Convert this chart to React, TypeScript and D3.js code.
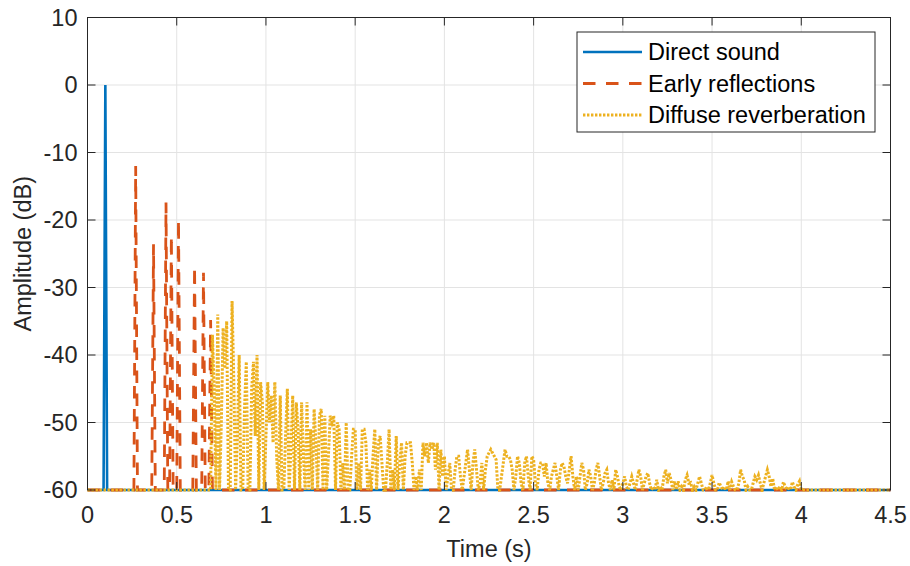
import React from 'react';
import * as d3 from 'd3';

// ---- data ----
const SAMPLE_STEP = 0.01; // s
const FLOOR_DB = -60;
const T_END = 4.5;

const xTicks = [0, 0.5, 1, 1.5, 2, 2.5, 3, 3.5, 4, 4.5];
const yTicks = [-60, -50, -40, -30, -20, -10, 0, 10];

const seriesNames = ['Direct sound', 'Early reflections', 'Diffuse reverberation'];

const directTimes = [0.1];
const directDb = [0];

const earlyTimes = [0.27, 0.37, 0.44, 0.47, 0.51, 0.6, 0.65, 0.69];
const earlyDb = [-12, -23.6, -17.4, -22.3, -19.9, -26.8, -27.8, -34.8];

const diffuseStart = 0.7;
const diffuseDb = [
  -37, -45, -60, -34, -60, -50, -36, -42, -35, -60,
  -60, -32, -44, -60, -52, -40, -60, -60, -48, -41,
  -60, -60, -45, -41, -52, -40, -60, -44, -47, -60,
  -52, -44, -50, -46, -53, -44, -55, -60, -46, -60,
  -60, -52, -45, -60, -54, -46, -60, -47, -51, -60,
  -47, -55, -60, -47, -60, -51, -60, -48, -53, -60,
  -49, -48, -60, -49, -60, -55, -49, -50, -49, -60,
  -50, -51, -60, -56, -60, -50, -60, -60, -55, -51,
  -51, -60, -56, -60, -51, -51, -53, -60, -57, -60,
  -55, -51, -60, -53, -52, -56, -60, -60, -56, -51,
  -60, -57, -60, -52, -60, -56, -53, -60, -55, -53,
  -53, -53, -56, -60, -58, -60, -57, -60, -53, -55,
  -53, -56, -53, -54, -53, -57, -53, -60, -54, -58,
  -55, -60, -58, -56, -60, -60, -57, -55, -55, -58,
  -60, -58, -56, -54, -57, -60, -56, -54, -57, -60,
  -59, -56, -60, -57, -55, -54.5, -54, -54.5, -55, -55.5,
  -60, -60, -58, -56, -54, -55, -55, -55.5, -57, -60,
  -58, -55, -56, -59, -60, -56, -55, -58, -60, -55,
  -55.5, -59, -60, -57, -56, -56, -58, -56, -59, -60,
  -58, -57, -56, -58, -60, -57, -56, -56.5, -58, -59,
  -57, -55, -58, -60, -58, -60, -58, -56, -57, -60,
  -59, -57, -58, -60, -59, -57, -56, -58, -60, -59,
  -57.5, -57, -59, -60, -58.5, -60, -57, -58, -59.5, -60,
  -59, -58, -59.5, -60, -59, -58, -59, -60, -58.5, -57,
  -58, -60, -59, -58, -57.5, -59, -60, -59.5, -60, -58.5,
  -60, -59.5, -60, -58, -57, -59, -57.5, -58.5, -60, -58.7,
  -60, -58.7, -60, -59.5, -60, -58.5, -57.8, -59, -58.9, -60,
  -59.5, -60, -59, -58, -59, -60, -60, -59.5, -60, -59,
  -57.8, -59, -60, -60, -58.9, -59.5, -60, -59.5, -60, -58.7,
  -60, -58.8, -59.5, -60, -60, -59, -57, -58, -58.5, -60,
  -59.5, -60, -60, -59, -58, -58.5, -57.8, -59, -60, -59,
  -58, -57, -58, -59.5, -58.3, -60, -59.5, -60, -59.5, -60,
  -58.8, -59.5, -60, -59.5, -60, -58.8, -59.5, -60, -59.2, -58.7, -60,
];

const colors = ['#0072BD', '#D95319', '#EDB120'];

// ---- build sampled series ----
const nSamples = Math.round(T_END / SAMPLE_STEP) + 1;
function buildSeries(times: number[], values: number[]): [number, number][] {
  const arr: number[] = new Array(nSamples).fill(FLOOR_DB);
  times.forEach((t, i) => {
    const idx = Math.round(t / SAMPLE_STEP);
    if (idx >= 0 && idx < nSamples) arr[idx] = values[i];
  });
  return arr.map((v, i) => [i * SAMPLE_STEP, v]);
}
const diffuseTimes = diffuseDb.map((_, i) => diffuseStart + i * SAMPLE_STEP);

const directSeries = buildSeries(directTimes, directDb);
const earlySeries = buildSeries(earlyTimes, earlyDb);
const diffuseSeries = buildSeries(diffuseTimes, diffuseDb);

const FONT = '"Liberation Sans", Arial, Helvetica, sans-serif';
const FS = 23.5;
const AX = '#262626';

export default function App() {
  const W = 910, H = 566;
  const x = d3.scaleLinear().domain([0, 4.5]).range([87.5, 890.5]);
  const y = d3.scaleLinear().domain([-60, 10]).range([490, 17.5]);
  const line = d3.line<[number, number]>().x(d => x(d[0])).y(d => y(d[1]));
  const [x0, x1] = x.range();
  const [y0, y1] = y.range();
  const tick = 8;

  const dashes = [undefined, '12.5 10.5', '2.4 1.6'];
  const widths = [2.6, 2.8, 3];
  const series = [directSeries, earlySeries, diffuseSeries];

  const legX = 577, legY = 32, legW = 298, legH = 100;
  const legRows = [52, 83.5, 115];

  return (
    <svg width={W} height={H} style={{ position: 'absolute', left: 0, top: 0, background: '#fff' }} fontFamily={FONT}>
      <rect x={0} y={0} width={W} height={H} fill="#fff" />
      <defs>
        <clipPath id="plotclip">
          <rect x={x0 - 2} y={y1 - 2} width={x1 - x0 + 4} height={y0 - y1 + 4} />
        </clipPath>
      </defs>
      {/* grid */}
      <g stroke="#e3e3e3" strokeWidth={1}>
        {xTicks.map(t => (
          <line key={'gx' + t} x1={x(t)} x2={x(t)} y1={y1} y2={y0} />
        ))}
        {yTicks.map(t => (
          <line key={'gy' + t} x1={x0} x2={x1} y1={y(t)} y2={y(t)} />
        ))}
      </g>
      {/* axes box */}
      <rect x={x0} y={y1} width={x1 - x0} height={y0 - y1} fill="none" stroke={AX} strokeWidth={1} />
      {/* series */}
      <g clipPath="url(#plotclip)" fill="none">
        {series.map((s, i) => (
          <path key={i} d={line(s) || ''} stroke={colors[i]} strokeWidth={widths[i]}
            strokeDasharray={dashes[i]} strokeLinejoin="miter" strokeMiterlimit={4} />
        ))}
      </g>
      <g stroke={AX} strokeWidth={1}>
        {xTicks.map(t => (
          <g key={'tx' + t}>
            <line x1={x(t)} x2={x(t)} y1={y0} y2={y0 - tick} />
            <line x1={x(t)} x2={x(t)} y1={y1} y2={y1 + tick} />
          </g>
        ))}
        {yTicks.map(t => (
          <g key={'ty' + t}>
            <line x1={x0} x2={x0 + tick} y1={y(t)} y2={y(t)} />
            <line x1={x1} x2={x1 - tick} y1={y(t)} y2={y(t)} />
          </g>
        ))}
      </g>
      {/* tick labels */}
      <g fill={AX} fontSize={FS}>
        {xTicks.map(t => (
          <text key={'lx' + t} x={x(t)} y={y0 + 33} textAnchor="middle">{String(t)}</text>
        ))}
        {yTicks.map(t => (
          <text key={'ly' + t} x={x0 - 10} y={y(t) + 8} textAnchor="end">{String(t)}</text>
        ))}
      </g>
      {/* axis labels */}
      <text x={(x0 + x1) / 2} y={557} textAnchor="middle" fontSize={FS} fill={AX}>Time (s)</text>
      <text transform={`translate(31, ${(y0 + y1) / 2}) rotate(-90)`} textAnchor="middle" fontSize={FS} fill={AX}>Amplitude (dB)</text>
      {/* legend */}
      <rect x={legX} y={legY} width={legW} height={legH} fill="#fff" stroke={AX} strokeWidth={1} />
      {seriesNames.map((name, i) => (
        <g key={name}>
          <line x1={583} x2={642} y1={legRows[i]} y2={legRows[i]} stroke={colors[i]} strokeWidth={widths[i]}
            strokeDasharray={dashes[i]} />
          <text x={648} y={legRows[i] + 8} fontSize={FS} fill="#000">{name}</text>
        </g>
      ))}
    </svg>
  );
}
